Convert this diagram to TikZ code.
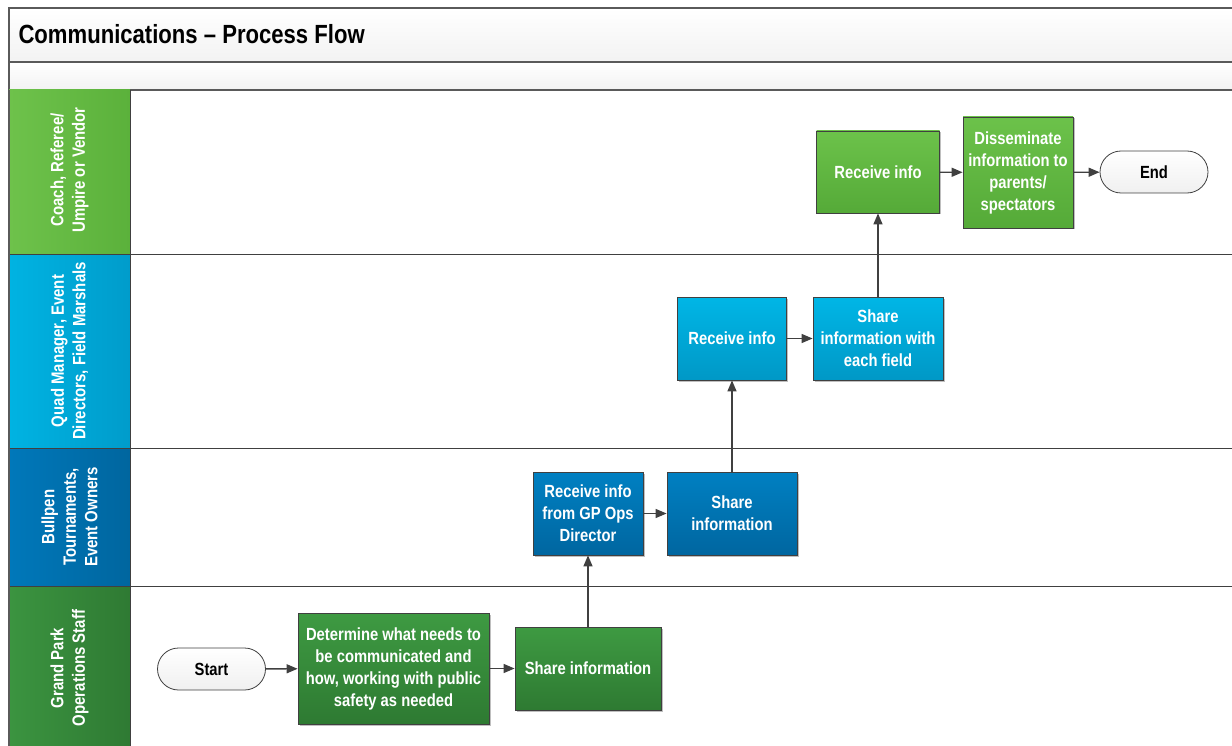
\documentclass[tikz,border=0pt]{standalone}
\usepackage{fontspec}
\setmainfont{Liberation Sans}[FakeStretch=0.84]
\usetikzlibrary{arrows.meta,shadows}
\definecolor{linegray}{HTML}{404040}
\definecolor{frame}{HTML}{5A5A5A}
\tikzset{
  laneline/.style={draw=linegray, line width=1pt},
  box/.style={draw=linegray, line width=0.8pt, align=center, text=white,
    font=\fontsize{17.6}{22}\selectfont\bfseries, inner sep=2pt,
    drop shadow={shadow xshift=1.5pt, shadow yshift=-1.5pt, opacity=0.25, fill=black}},
  coachbox/.style={box, top color=coachT, bottom color=coachB},
  quadbox/.style={box, top color=quadT, bottom color=quadB},
  bullbox/.style={box, top color=bullT, bottom color=bullB},
  gpbox/.style={box, top color=gpT, bottom color=gpB},
  term/.style={draw=linegray, line width=0.8pt, rounded corners=21pt, align=center,
    text=black, font=\fontsize{17.6}{22}\selectfont\bfseries,
    top color=white, bottom color=gray!12, minimum width=108pt, minimum height=42pt},
  flow/.style={draw=linegray, line width=1.4pt, -{Triangle[length=11pt,width=9pt]}},
  lanelabel/.style={rotate=90, align=center, text=white,
    font=\fontsize{17.8}{21.5}\selectfont\bfseries},
}
\definecolor{coachT}{HTML}{6CC24A}
\definecolor{coachB}{HTML}{55AA38}
\definecolor{quadT}{HTML}{00B6E6}
\definecolor{quadB}{HTML}{0098C6}
\definecolor{bullT}{HTML}{0080C2}
\definecolor{bullB}{HTML}{0066A0}
\definecolor{gpT}{HTML}{3E9A42}
\definecolor{gpB}{HTML}{2E7A32}
\definecolor{coachL}{HTML}{6EC24B}
\definecolor{coachR}{HTML}{5BB13B}
\definecolor{quadL}{HTML}{00B3E2}
\definecolor{quadR}{HTML}{009CCB}
\definecolor{bullL}{HTML}{0078BA}
\definecolor{bullR}{HTML}{00669F}
\definecolor{gpL}{HTML}{3B9440}
\definecolor{gpR}{HTML}{2F7A33}
\begin{document}
\begin{tikzpicture}[x=1pt,y=-1pt]
\useasboundingbox (0,0) rectangle (1232,746);
% title bands
\shade[top color=white, bottom color=gray!10] (9,8) rectangle (1240,62);
\shade[top color=white, bottom color=gray!10] (9,62) rectangle (1240,90);
\draw[draw=frame, line width=1.8pt] (1240,8) -- (9,8) -- (9,750);
\draw[draw=frame, line width=1.5pt] (9,62) -- (1240,62);
\draw[draw=frame, line width=1.5pt] (9,90) -- (1240,90);
\node[anchor=west, font=\fontsize{26.3}{30}\selectfont\bfseries] (title) at (15,34) {Communications -- Process Flow};
% lane headers
\shade[left color=coachL, right color=coachR] (9,90) rectangle (130,255);
\shade[left color=quadL, right color=quadR] (9,255) rectangle (130,448);
\shade[left color=bullL, right color=bullR] (9,448) rectangle (130,586);
\shade[left color=gpL, right color=gpR] (9,586) rectangle (130,750);
\draw[laneline] (130,90) -- (130,750);
\draw[laneline] (9,255) -- (1240,255);
\draw[laneline] (9,448) -- (1240,448);
\draw[laneline] (9,586) -- (1240,586);
\draw[draw=frame, line width=1.8pt] (9,90) -- (9,750);
\node[lanelabel] (l1) at (69.5,170) {Coach, Referee/\\Umpire or Vendor};
\node[lanelabel] (l2) at (69.5,351) {Quad Manager, Event\\Directors, Field Marshals};
\node[lanelabel] (l3) at (69.5,517) {Bullpen\\Tournaments,\\Event Owners};
\node[lanelabel] (l4) at (69.5,668) {Grand Park\\Operations Staff};
% nodes
\node[term] (start) at (211.5,669) {Start};
\node[gpbox, minimum width=191pt, minimum height=111pt] (gd) at (393.5,668.5) {Determine what needs to\\be communicated and\\how, working with public\\safety as needed};
\node[gpbox, minimum width=146pt, minimum height=83pt] (gs) at (588,668.5) {Share information};
\node[bullbox, minimum width=110pt, minimum height=83pt] (br) at (588,513.5) {Receive info\\from GP Ops\\Director};
\node[bullbox, minimum width=130pt, minimum height=83pt] (bs) at (732,513.5) {Share\\information};
\node[quadbox, minimum width=109pt, minimum height=83pt] (qr) at (732,338.5) {Receive info};
\node[quadbox, minimum width=130pt, minimum height=83pt] (qs) at (878,338.5) {Share\\information with\\each field};
\node[coachbox, minimum width=123pt, minimum height=82pt] (cr) at (878,172) {Receive info};
\node[coachbox, minimum width=110pt, minimum height=111pt] (cd) at (1018,172.5) {Disseminate\\information to\\parents/\\spectators};
\node[term] (end) at (1154,172) {End};
% connectors
\draw[flow] (start) -- (gd);
\draw[flow] (gd) -- (gs);
\draw[flow] (gs) -- (br);
\draw[flow] (br) -- (bs);
\draw[flow] (bs) -- (qr);
\draw[flow] (qr) -- (qs);
\draw[flow] (qs) -- (cr);
\draw[flow] (cr) -- (cd);
\draw[flow] (cd) -- (end);
\end{tikzpicture}
\end{document}
